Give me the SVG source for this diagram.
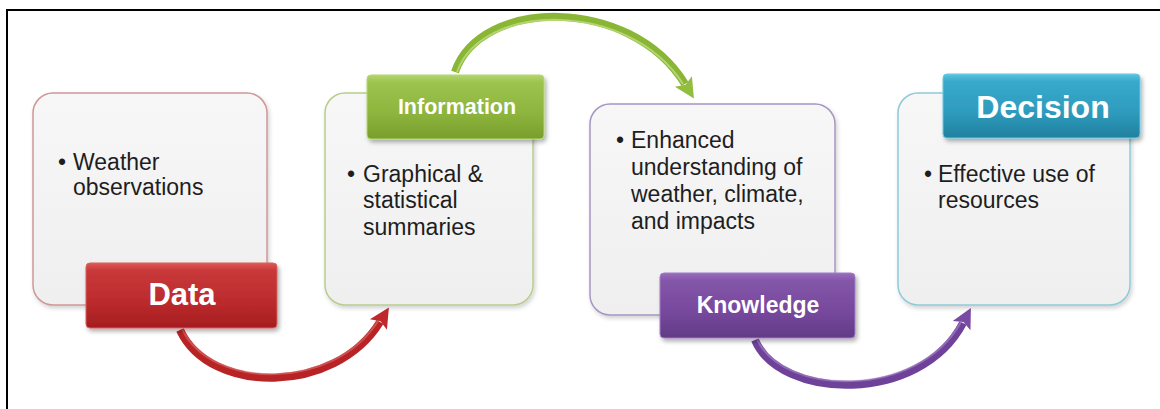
<svg xmlns="http://www.w3.org/2000/svg" width="1160" height="409" viewBox="0 0 1160 409">
  <style>
    .body { font-family: "Liberation Sans", Arial, sans-serif; font-size: 23px; fill: #1e1e1e; }
    .lbl { font-family: "Liberation Sans", Arial, sans-serif; font-weight: bold; fill: #ffffff; text-anchor: middle; }
    .card { fill: url(#cardFill); stroke-width: 1.5; filter: url(#softShadow); }
    .tag { filter: url(#tagShadow); }
    .arrow { fill: none; stroke-linecap: butt; }
  </style>
  <defs>
    <linearGradient id="cardFill" x1="0" y1="0" x2="0" y2="1">
      <stop offset="0" stop-color="#f7f7f8"/>
      <stop offset="1" stop-color="#efeff0"/>
    </linearGradient>
    <linearGradient id="gRed" x1="0" y1="0" x2="0" y2="1">
      <stop offset="0" stop-color="#dc5a56"/>
      <stop offset="0.12" stop-color="#c8383a"/>
      <stop offset="0.6" stop-color="#bc2b2d"/>
      <stop offset="1" stop-color="#a51d20"/>
    </linearGradient>
    <linearGradient id="gGreen" x1="0" y1="0" x2="0" y2="1">
      <stop offset="0" stop-color="#b3d56e"/>
      <stop offset="0.12" stop-color="#9cc34e"/>
      <stop offset="0.6" stop-color="#8db43c"/>
      <stop offset="1" stop-color="#789f2c"/>
    </linearGradient>
    <linearGradient id="gPurple" x1="0" y1="0" x2="0" y2="1">
      <stop offset="0" stop-color="#9a6cbf"/>
      <stop offset="0.12" stop-color="#8356a8"/>
      <stop offset="0.6" stop-color="#77489d"/>
      <stop offset="1" stop-color="#623a86"/>
    </linearGradient>
    <linearGradient id="gTeal" x1="0" y1="0" x2="0" y2="1">
      <stop offset="0" stop-color="#5cc4e0"/>
      <stop offset="0.12" stop-color="#38a9cb"/>
      <stop offset="0.6" stop-color="#2e9bbd"/>
      <stop offset="1" stop-color="#22809f"/>
    </linearGradient>
    <filter id="softShadow" x="-10%" y="-10%" width="125%" height="125%">
      <feDropShadow dx="1.5" dy="2.5" stdDeviation="2" flood-color="#000" flood-opacity="0.18"/>
    </filter>
    <filter id="tagShadow" x="-10%" y="-15%" width="125%" height="140%">
      <feDropShadow dx="2" dy="3" stdDeviation="2" flood-color="#000" flood-opacity="0.3"/>
    </filter>
    <marker id="headRed" markerUnits="userSpaceOnUse" markerWidth="24" markerHeight="24" viewBox="-4 -12 24 24" refX="0" refY="0" orient="auto">
      <path d="M-3,-10 L17,0 L-3,10 L1,0 Z" fill="#c0292c"/>
    </marker>
    <marker id="headGreen" markerUnits="userSpaceOnUse" markerWidth="24" markerHeight="24" viewBox="-4 -12 24 24" refX="0" refY="0" orient="auto">
      <path d="M-3,-10 L17,0 L-3,10 L1,0 Z" fill="#92bd3e"/>
    </marker>
    <marker id="headPurple" markerUnits="userSpaceOnUse" markerWidth="24" markerHeight="24" viewBox="-4 -12 24 24" refX="0" refY="0" orient="auto">
      <path d="M-3,-10 L17,0 L-3,10 L1,0 Z" fill="#7a4ba3"/>
    </marker>
  </defs>

  <rect x="0" y="0" width="1160" height="409" fill="#ffffff"/>
  <path d="M7,409 V10 H1160" fill="none" stroke="#000000" stroke-width="2"/>

  <g id="connectors">
    <g id="arrow-data-information">
      <path class="arrow" d="M180,330 C210,395 335,395 380,322" stroke="#b82326" stroke-width="8" marker-end="url(#headRed)"/>
      <path class="arrow" d="M182,329 C212,391 335,390 378,321" stroke="#e0716c" stroke-width="2" opacity="0.6"/>
    </g>
    <g id="arrow-information-knowledge">
      <path class="arrow" d="M455,72 C480,-2 630,-5 685,84" stroke="#8ab636" stroke-width="8" marker-end="url(#headGreen)"/>
      <path class="arrow" d="M457,72 C482,2 628,-1 683,84" stroke="#c6e28c" stroke-width="2" opacity="0.7"/>
    </g>
    <g id="arrow-knowledge-decision">
      <path class="arrow" d="M755,340 C780,400 920,405 963,323" stroke="#6f429a" stroke-width="8" marker-end="url(#headPurple)"/>
      <path class="arrow" d="M757,339 C782,396 918,400 961,322" stroke="#a888cc" stroke-width="2" opacity="0.6"/>
    </g>
  </g>

  <g id="node-data">
    <rect class="card" x="33" y="93" width="234" height="212" rx="20" stroke="#cf9797"/>
    <text class="body" x="62" y="170" text-anchor="middle">•</text>
    <text class="body" x="73" y="170">Weather</text>
    <text class="body" x="73" y="195">observations</text>
    <g class="tag">
      <rect x="86" y="263" width="191" height="65" rx="4" fill="url(#gRed)" stroke="#d8605c" stroke-width="1"/>
    </g>
    <text class="lbl" x="182" y="305" font-size="31">Data</text>
  </g>

  <g id="node-information">
    <rect class="card" x="325" y="93" width="208" height="212" rx="20" stroke="#b8cd8c"/>
    <text class="body" x="351" y="182" text-anchor="middle">•</text>
    <text class="body" x="363" y="182">Graphical &amp;</text>
    <text class="body" x="363" y="208">statistical</text>
    <text class="body" x="363" y="235">summaries</text>
    <g class="tag">
      <rect x="367" y="75" width="177" height="64" rx="4" fill="url(#gGreen)" stroke="#b5d772" stroke-width="1"/>
    </g>
    <text class="lbl" x="457" y="114" font-size="21.5">Information</text>
  </g>

  <g id="node-knowledge">
    <rect class="card" x="590" y="104" width="245" height="211" rx="20" stroke="#a597c3"/>
    <text class="body" x="620" y="148" text-anchor="middle">•</text>
    <text class="body" x="631" y="148">Enhanced</text>
    <text class="body" x="631" y="175">understanding of</text>
    <text class="body" x="631" y="202">weather, climate,</text>
    <text class="body" x="631" y="229">and impacts</text>
    <g class="tag">
      <rect x="660" y="273" width="195" height="65" rx="4" fill="url(#gPurple)" stroke="#a17cc6" stroke-width="1"/>
    </g>
    <text class="lbl" x="758" y="313" font-size="23">Knowledge</text>
  </g>

  <g id="node-decision">
    <rect class="card" x="898" y="93" width="232" height="212" rx="20" stroke="#8ecad8"/>
    <text class="body" x="928" y="182" text-anchor="middle">•</text>
    <text class="body" x="938" y="182">Effective use of</text>
    <text class="body" x="938" y="208">resources</text>
    <g class="tag">
      <rect x="943" y="74" width="197" height="64" rx="4" fill="url(#gTeal)" stroke="#66c9e4" stroke-width="1"/>
    </g>
    <text class="lbl" x="1043" y="118" font-size="32">Decision</text>
  </g>
</svg>
